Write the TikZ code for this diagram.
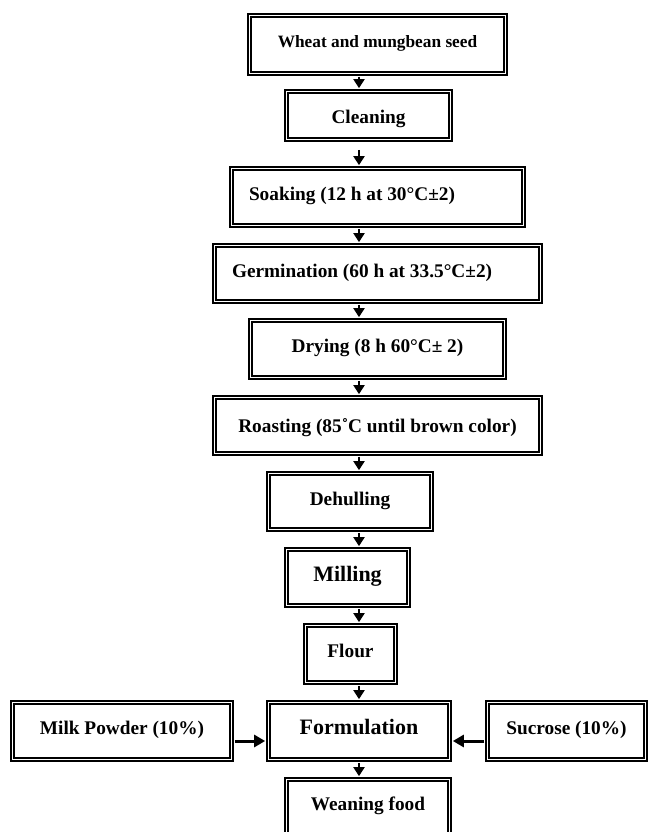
\documentclass[tikz,border=0pt]{standalone}
\usepackage{fontspec}
\setmainfont{Liberation Serif}
\usetikzlibrary{arrows.meta}

\tikzset{
  % ----- the framed boxes of the flow
  stage/.style={
    rectangle, draw=black, double=white, line width=1.7pt, double distance=1.6pt,
    fill=white, inner sep=0pt, align=center,
    text height=11pt, text depth=3.4pt,
    font=\bfseries\fontsize{19.3}{23}\selectfont
  },
  small/.style = {font=\bfseries\fontsize{17.3}{21}\selectfont},
  big/.style = {font=\bfseries\fontsize{22}{26}\selectfont},
  leftpad/.style = {align=flush left, inner xsep=17.5pt, text width=#1},
  % ----- the connectors
  side/.style = {line width=3pt, >={Triangle[length=11pt, width=12pt]}},
  gap_clean/.style = {shorten <=9.5pt}
}

\begin{document}
\begin{tikzpicture}[
                x = 1pt, y = -1pt, % page units, y pointing down
                > = {Triangle[length=9pt, width=11pt]}, % arrow head style
                shorten > = 2.5pt, % stop at the outer line
                shorten < = 2.5pt,
                line width = 2pt % line style
            ]
        \useasboundingbox (0,0) rectangle (650,832);
        \clip (0,0) rectangle (650,832);

        % main column
        \node[stage, small, minimum width=256pt, minimum height=58pt, text height=9pt] (wheat) at (377.5,44.5) {Wheat and mungbean seed};
        \node[stage, minimum width=164pt, minimum height=48pt, text height=19pt] (clean) at (368.5,115.5) {Cleaning};
        \node[stage, leftpad=257pt, minimum width=292pt, minimum height=57pt] (soak) at (377.5,197) {Soaking (12 h at 30°C±2)};
        \node[stage, leftpad=291pt, minimum width=326pt, minimum height=56pt] (germ) at (377.5,273.5) {Germination (60 h at 33.5°C±2)};
        \node[stage, minimum width=254pt, minimum height=57pt] (dry) at (377.5,349) {Drying (8 h 60°C± 2)};
        \node[stage, minimum width=326pt, minimum height=56pt, text height=17pt] (roast) at (377.5,425.5) {Roasting (85˚C until brown color)};
        \node[stage, minimum width=163pt, minimum height=56pt] (dehull) at (350,501.5) {Dehulling};
        \node[stage, big, minimum width=122pt, minimum height=56pt] (mill) at (347.5,577.5) {Milling};
        \node[stage, minimum width=90pt, minimum height=57pt] (flour) at (350.5,654) {Flour};
        \node[stage, big, minimum width=181pt, minimum height=57pt] (formul) at (359,731) {Formulation};
        \node[stage, minimum width=163pt, minimum height=56pt, text height=9pt] (wean) at (368,807.5) {Weaning food};

        % additions
        \node[stage, minimum width=219pt, minimum height=57pt] (milk) at (122,731) {Milk Powder (10\%)};
        \node[stage, minimum width=158pt, minimum height=57pt] (sucr) at (566.5,731) {Sucrose (10\%)};

        % Connect each step to the next one
        \coordinate (spine) at (359,0);
        \foreach \a/\b in {wheat/clean, clean/soak, soak/germ, germ/dry, dry/roast,
                           roast/dehull, dehull/mill, mill/flour, flour/formul, formul/wean}{
            \draw[->, gap_\a/.try] (\a.south -| spine) -- (\b.north -| spine);
        }
        \draw[->, side] ([yshift=-10pt]milk.east) -- ([yshift=-10pt]formul.west);
        \draw[->, side] ([yshift=-10pt]sucr.west) -- ([yshift=-10pt]formul.east);
    \end{tikzpicture}
\end{document}
